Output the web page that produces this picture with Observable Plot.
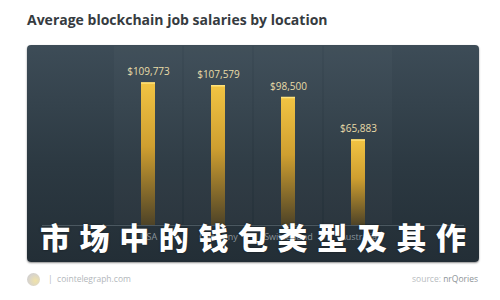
<!DOCTYPE html>
<html>
<head>
<meta charset="utf-8">
<script src="https://cdn.jsdelivr.net/npm/d3@7"></script>
<script src="https://cdn.jsdelivr.net/npm/@observablehq/plot@0.6"></script>
<style>
  html, body { margin: 0; padding: 0; background: #fff; width: 500px; height: 300px; overflow: hidden; font-family: "Open Sans", sans-serif; }
  #title { position: absolute; left: 27px; top: 10px; font-size: 14px; font-weight: 700; color: #363b3f; white-space: nowrap; }
  #panel { position: absolute; left: 27px; top: 45px; width: 452px; height: 217px; border-radius: 4px;
           background: linear-gradient(#3d4c57, #2c3942 55%, #232e36); box-shadow: 0 1px 2px rgba(0,0,0,0.45); overflow: hidden; }
  #chart svg { display: block; }
  #overlay { position: absolute; left: 40px; top: 221px; font-family: "Noto Sans CJK SC"; font-weight: 900; font-size: 30px;
             letter-spacing: 9.6px; color: #fff; white-space: nowrap; line-height: 1; text-shadow: 0 0 2px rgba(0,0,0,0.5); }
  #logo { position: absolute; left: 27px; top: 273px; width: 13px; height: 13px; border-radius: 50%;
          background: radial-gradient(circle at 65% 60%, #f1e3a8, #d8d4cc 60%, #c9c9c9); }
  #site { position: absolute; left: 48px; top: 273px; font-size: 8.5px; color: #b3b7bb; white-space: nowrap; }
  #source { position: absolute; right: 22px; top: 273px; font-size: 8.5px; color: #b8bcc0; white-space: nowrap; }
  #source b { font-weight: 400; color: #8e9498; }
</style>
</head>
<body>
<div id="title">Average blockchain job salaries by location</div>
<div id="panel"><div id="chart"></div></div>
<div id="overlay">市场中的钱包类型及其作</div>
<div id="logo"></div>
<div id="site">|&nbsp; cointelegraph.com</div>
<div id="source">source: <b>nrQories</b></div>
<script>
const locations = ["USA", "Germany", "Switzerland", "Australia"];
const salaries = [109773, 107579, 98500, 65883];
const salaryLabels = ["$109,773", "$107,579", "$98,500", "$65,883"];

const rows = locations.map((location, i) => ({ location, salary: salaries[i], label: salaryLabels[i] }));
const yTop = 138600;

const chart = Plot.plot({
  width: 452,
  height: 217,
  marginLeft: 85,
  marginRight: 85,
  marginTop: 0,
  marginBottom: 37,
  style: { background: "transparent", fontFamily: "Open Sans", fontSize: "9px", color: "#8a949b" },
  x: { domain: locations, padding: 0, label: null, tickSize: 0, tickPadding: 8 },
  y: { domain: [0, yTop], axis: null },
  marks: [
    // faint column behind each bar
    Plot.barY(rows, { x: "location", y: () => yTop, fill: "#ffffff", fillOpacity: 0.025, inset: 1 }),
    Plot.ruleY([0], { stroke: "#7b8790", strokeOpacity: 0.45, insetLeft: -70, insetRight: -70 }),
    Plot.barY(rows, { x: "location", y: "salary", fill: "url(#gold)", insetLeft: 28, insetRight: 28 }),
    Plot.tickY(rows, { x: "location", y: "salary", stroke: "#ffe27a", strokeWidth: 1.5, insetLeft: 28, insetRight: 28 }),
    Plot.text(rows, { x: "location", y: "salary", text: "label", dy: -11, fill: "#e9dca8", fontSize: 10 })
  ]
});

const defs = d3.select(chart).insert("defs", ":first-child");
const grad = defs.append("linearGradient").attr("id", "gold")
  .attr("x1", 0).attr("y1", 0).attr("x2", 0).attr("y2", 1);
grad.append("stop").attr("offset", "0%").attr("stop-color", "#f2c443");
grad.append("stop").attr("offset", "45%").attr("stop-color", "#cf9f30");
grad.append("stop").attr("offset", "100%").attr("stop-color", "#4e4327");

document.getElementById("chart").appendChild(chart);
</script>
</body>
</html>
